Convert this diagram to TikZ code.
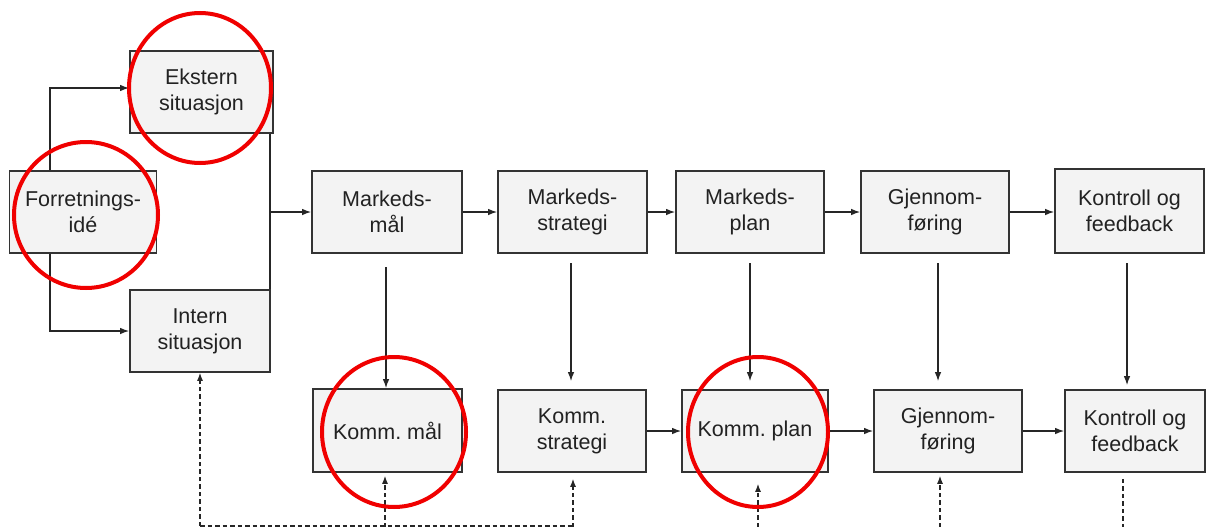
\documentclass[tikz,border=0pt]{standalone}
\usepackage{fontspec}
\setmainfont{Liberation Sans}
\usetikzlibrary{arrows.meta}
\frenchspacing
\definecolor{boxfill}{HTML}{F3F3F3}
\definecolor{boxline}{HTML}{333333}
\definecolor{txt}{HTML}{222222}
\definecolor{ring}{HTML}{F00000}
\tikzset{
  box/.style={draw=boxline, line width=1.6pt, fill=boxfill, inner sep=0pt,
    align=center, text=txt, font=\fontsize{21.5}{26}\selectfont},
  arr/.style={draw=black!85, line width=1.3pt, -{Latex[length=9pt,width=6.5pt]}},
  ln/.style={draw=black!85, line width=1.3pt},
  dsh/.style={draw=black!85, line width=1.2pt, dash pattern=on 4.5pt off 3pt},
  darr/.style={dsh, -{Latex[length=8pt,width=6pt]}},
  redring/.style={draw=ring, line width=4pt}
}
\begin{document}
\begin{tikzpicture}[x=1pt,y=-1pt]
\useasboundingbox (0,0) rectangle (1210,527);
% top-left cluster
\node[box, minimum width=143pt, minimum height=82pt] (ekst) at (201.5,92) {Ekstern\\situasjon};
\node[box, minimum width=147pt, minimum height=82pt] (forr) at (83,212) {Forretnings-\\idé};
\node[box, minimum width=140pt, minimum height=82pt] (intern) at (200,331) {Intern\\situasjon};
% top row
\node[box, minimum width=150pt, minimum height=82pt] (mm) at (387,212) {Markeds-\\mål};
\node[box, minimum width=149pt, minimum height=82pt] (ms) at (572.5,212) {Markeds-\\strategi};
\node[box, minimum width=148pt, minimum height=82pt] (mp) at (750,212) {Markeds-\\plan};
\node[box, minimum width=148pt, minimum height=82pt] (mg) at (935,212) {Gjennom-\\føring};
\node[box, minimum width=149pt, minimum height=84pt] (mk) at (1129.5,211) {Kontroll og\\feedback};
% bottom row
\node[box, minimum width=149pt, minimum height=83pt] (km) at (387.5,430.5) {Komm. mål};
\node[box, minimum width=148pt, minimum height=82pt] (ks) at (572,431) {Komm.\\strategi};
\node[box, minimum width=146pt, minimum height=82pt] (kp) at (755,431) {Komm. plan};
\node[box, minimum width=148pt, minimum height=82pt] (kg) at (948,431) {Gjennom-\\føring};
\node[box, minimum width=140pt, minimum height=82pt] (kk) at (1135,431) {Kontroll og\\feedback};

% helper coordinates
\coordinate (fx) at (50,0);
\coordinate (jx) at (270,0);
% left connectors
\draw[arr] (fx |- forr.north) -- (fx |- 0,88) -- (ekst.west |- 0,88);
\draw[arr] (fx |- forr.south) -- (fx |- intern.west) -- (intern.west);
\draw[ln] (jx |- ekst.south) -- (jx |- intern.north);
\draw[arr] (jx |- mm.west) -- (mm.west);
% top row chain
\draw[arr] (mm.east) -- (ms.west);
\draw[arr] (ms.east) -- (mp.west);
\draw[arr] (mp.east) -- (mg.west);
\draw[arr] (mg.east) -- (mg.east -| mk.west);
% vertical arrows top -> bottom
\coordinate (v1) at (386,267);
\coordinate (v2) at (571,263);
\coordinate (v3) at (750,263);
\coordinate (v4) at (938,263);
\coordinate (v5) at (1127,263);
\draw[arr] (v1) -- (v1 |- km.north);
\draw[arr] (v2) -- ([yshift=8pt]v2 |- ks.north);
\draw[arr] (v3) -- ([yshift=8pt]v3 |- kp.north);
\draw[arr] (v4) -- ([yshift=8pt]v4 |- kg.north);
\draw[arr] (v5) -- ([yshift=4pt]v5 |- kk.north);
% bottom row chain
\draw[arr] (ks.east) -- (kp.west);
\draw[arr] (kp.east) -- (kg.west);
\draw[arr] (kg.east) -- (kk.west);
% feedback dashed lines
\coordinate (b0) at (200,526);
\coordinate (b1) at (385,527);
\coordinate (b2) at (573,527);
\coordinate (b3) at (758,527);
\coordinate (b4) at (940,527);
\coordinate (b5) at (1123,527);
\draw[dsh] (b0) -- (b2 |- b0);
\draw[darr] (b0) -- (intern.south);
\draw[darr] (b1) -- ([yshift=-3pt]b1 |- km.south);
\draw[darr] (b2) -- ([yshift=-6pt]b2 |- ks.south);
\draw[darr] (b3) -- ([yshift=-11pt]b3 |- kp.south);
\draw[darr] (b4) -- ([yshift=-3pt]b4 |- kg.south);
\draw[dsh] ([yshift=-6pt]b5 |- kk.south) -- (b5);
% red rings
\draw[redring] (200,88) ellipse (71 and 75);
\draw[redring] (86,215) ellipse (72 and 73);
\draw[redring] (394,432) ellipse (72 and 75);
\draw[redring] (758,432) ellipse (70 and 75);
\end{tikzpicture}
\end{document}
